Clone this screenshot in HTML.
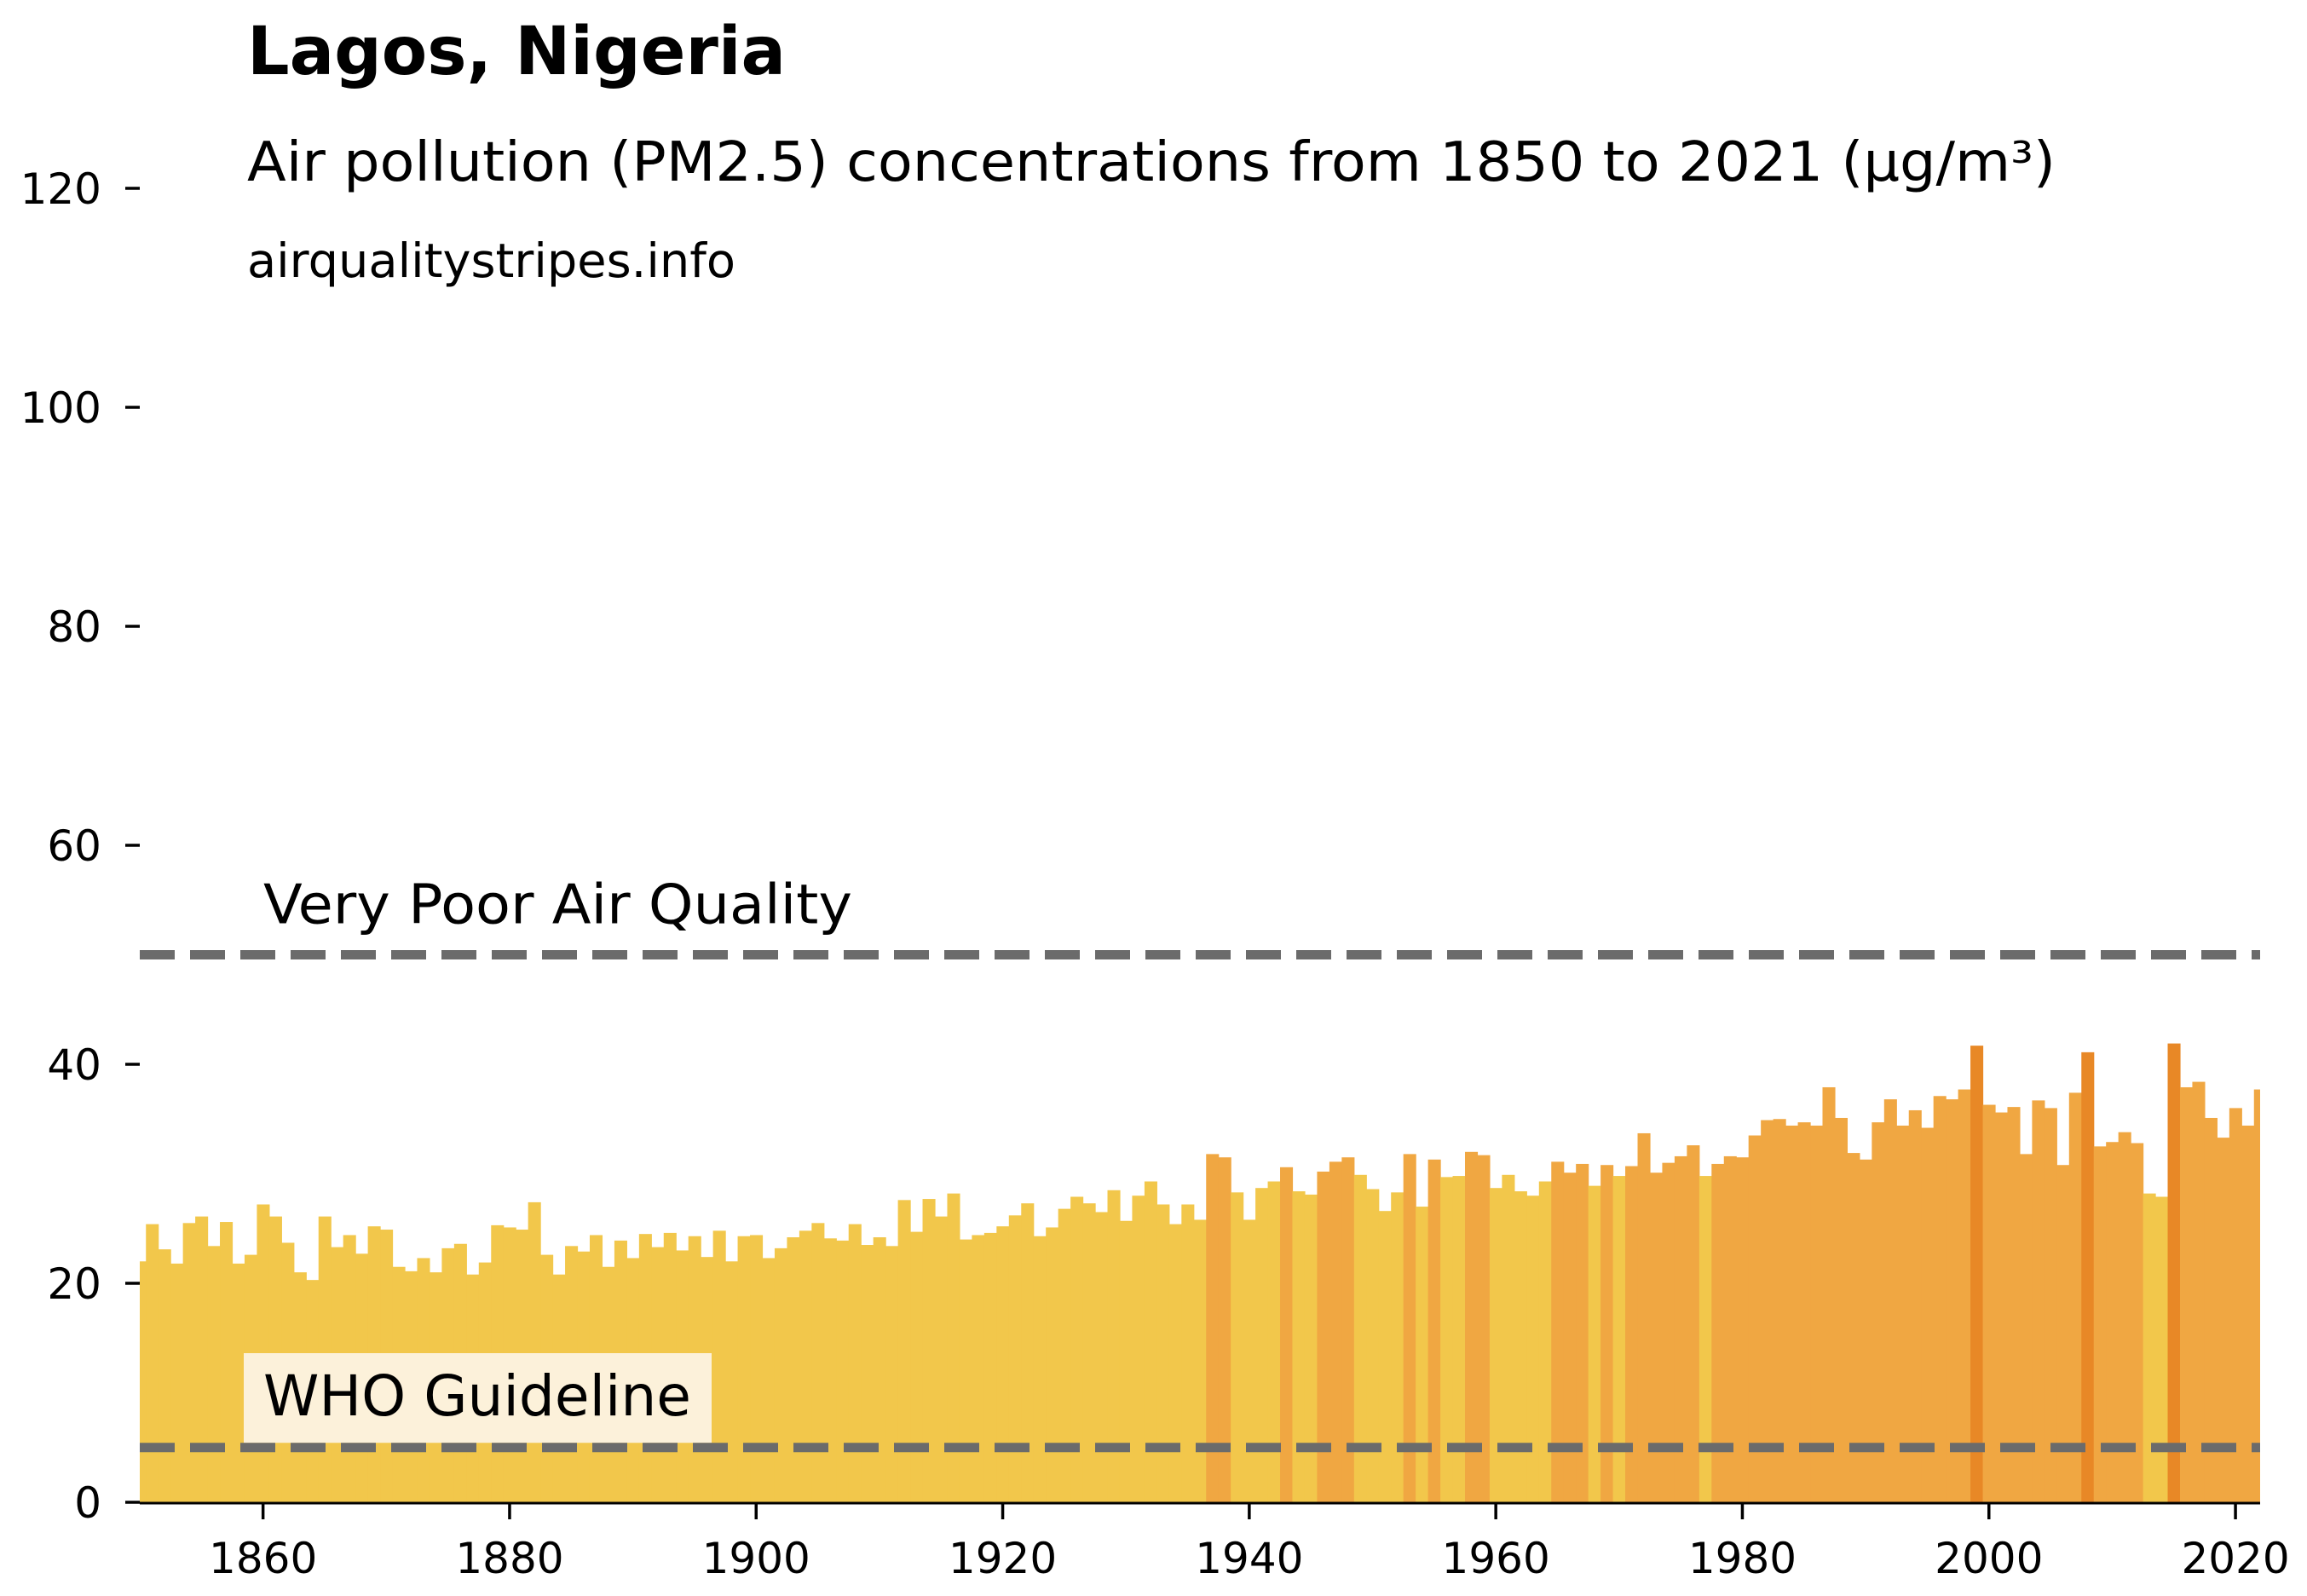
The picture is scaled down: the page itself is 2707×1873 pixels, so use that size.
<!DOCTYPE html>
<html><head><meta charset="utf-8">
<style>
html,body{margin:0;padding:0;background:#fff;}
svg{display:block;}
text{font-family:"DejaVu Sans","Liberation Sans",sans-serif;fill:#000;}
</style></head>
<body>
<svg id="chart" width="2707" height="1873" viewBox="0 0 2707 1873" xmlns="http://www.w3.org/2000/svg">
  <defs><clipPath id="plotclip"><rect x="164" y="150" width="2488" height="1613"/></clipPath></defs>
  <text x="290" y="87" font-size="78" font-weight="bold" textLength="632" lengthAdjust="spacingAndGlyphs">Lagos, Nigeria</text>
  <text x="290" y="212" font-size="64" textLength="2122" lengthAdjust="spacingAndGlyphs">Air pollution (PM2.5) concentrations from 1850 to 2021 (µg/m³)</text>
  <text x="290" y="325" font-size="55" textLength="573" lengthAdjust="spacingAndGlyphs">airqualitystripes.info</text>
  <g id="bars" clip-path="url(#plotclip)"></g>
  <g id="refs"></g>
  <g id="yaxis"></g>
  <g id="xaxis"></g>
</svg>
<script>
const values = [
22.0,25.4,23.1,21.8,25.5,26.1,23.4,25.6,21.8,22.6,
27.2,26.1,23.7,21.0,20.3,26.1,23.3,24.4,22.7,25.2,
24.9,21.5,21.1,22.3,21.0,23.2,23.6,20.8,21.9,25.3,
25.1,24.9,27.4,22.6,20.8,23.4,22.9,24.4,21.5,23.9,
22.3,24.5,23.3,24.6,23.0,24.3,22.4,24.8,22.0,24.3,
24.4,22.3,23.2,24.2,24.8,25.5,24.1,23.9,25.4,23.5,
24.2,23.4,27.6,24.7,27.7,26.1,28.2,24.0,24.4,24.6,
25.2,26.2,27.3,24.3,25.1,26.8,27.9,27.3,26.5,28.5,
25.7,28.0,29.3,27.2,25.4,27.2,25.8,31.8,31.5,28.3,
25.8,28.7,29.3,30.6,28.4,28.1,30.2,31.1,31.5,29.9,
28.6,26.6,28.3,31.8,27.0,31.3,29.7,29.8,32.0,31.7,
28.7,29.9,28.4,28.0,29.3,31.1,30.1,30.9,28.9,30.8,
29.8,30.7,33.7,30.1,31.0,31.6,32.6,29.8,30.9,31.6,
31.5,33.5,34.9,35.0,34.4,34.7,34.4,37.9,35.1,31.9,
31.3,34.7,36.8,34.4,35.8,34.2,37.1,36.8,37.7,41.7,
36.3,35.6,36.1,31.8,36.7,36.0,30.8,37.4,41.1,32.5,
32.9,33.8,32.8,28.2,27.9,41.9,37.9,38.4,35.1,33.3,
36.0,34.4,37.7];
const startYear = 1850;
const xTicks = [1860,1880,1900,1920,1940,1960,1980,2000,2020];
const yTicks = [0,20,40,60,80,100,120];
const refValues = [50,5];
const refLabels = ["Very Poor Air Quality","WHO Guideline"];

const NS = "http://www.w3.org/2000/svg";
const X0 = 164, X1 = 2652, XMIN = 1850, XMAX = 2022;
const Y0 = 1763, PXU = 12.85;
function xs(yr){ return X0 + (yr - XMIN) * (X1 - X0) / (XMAX - XMIN); }
function ys(v){ return Y0 - v * PXU; }
function colorFor(v){ return v >= 40 ? "#E88826" : (v >= 30 ? "#F0A742" : "#F2C74B"); }
function mk(tag, attrs, parent){
  const e = document.createElementNS(NS, tag);
  for (const k in attrs) e.setAttribute(k, attrs[k]);
  parent.appendChild(e); return e;
}
const barsG = document.getElementById("bars");
const bw = (X1 - X0) / (XMAX - XMIN);
values.forEach((v, i) => {
  const yr = startYear + i;
  const r = mk("rect", {x: xs(yr) - bw/2, y: ys(v), width: bw + 0.6, height: Y0 - ys(v), fill: colorFor(v)}, barsG);
  
  
});
const refG = document.getElementById("refs");
refValues.forEach((v, i) => {
  const l = mk("line", {x1: X0, x2: X1, y1: ys(v), y2: ys(v), stroke: "#6b6b6b", "stroke-width": 11, "stroke-dasharray": "41 18"}, refG);
  
  
});
const t1 = mk("text", {x: 309, y: ys(refValues[0]) - 37, "font-size": 64, textLength: 691, lengthAdjust: "spacingAndGlyphs"}, refG);
t1.textContent = refLabels[0];


const box = mk("rect", {x: 286, y: 1588, width: 549, height: ys(refValues[1]) - 5.5 - 1588, fill: "#FCF1DA"}, refG);


const t2 = mk("text", {x: 309, y: 1661, "font-size": 66, textLength: 502, lengthAdjust: "spacingAndGlyphs"}, refG);
t2.textContent = refLabels[1];


refG.appendChild(refG.children[1]);

const yG = document.getElementById("yaxis");
yTicks.forEach(v => {
  const tk = mk("line", {x1: 147, x2: 164, y1: ys(v), y2: ys(v), stroke: "#000", "stroke-width": 3.5}, yG);
  
  
  const lb = mk("text", {x: 119, y: ys(v) + 18, "font-size": 50, "text-anchor": "end"}, yG);
  lb.textContent = String(v);
  
  
});
const xG = document.getElementById("xaxis");
const ax = mk("line", {x1: X0, x2: X1, y1: Y0 + 1, y2: Y0 + 1, stroke: "#000", "stroke-width": 3}, xG);


xTicks.forEach(yr => {
  const tk = mk("line", {x1: xs(yr), x2: xs(yr), y1: Y0, y2: Y0 + 20, stroke: "#000", "stroke-width": 3.5}, xG);
  
  
  const lb = mk("text", {x: xs(yr), y: 1846, "font-size": 50, "text-anchor": "middle"}, xG);
  lb.textContent = String(yr);
  
  
});
</script>
</body></html>
